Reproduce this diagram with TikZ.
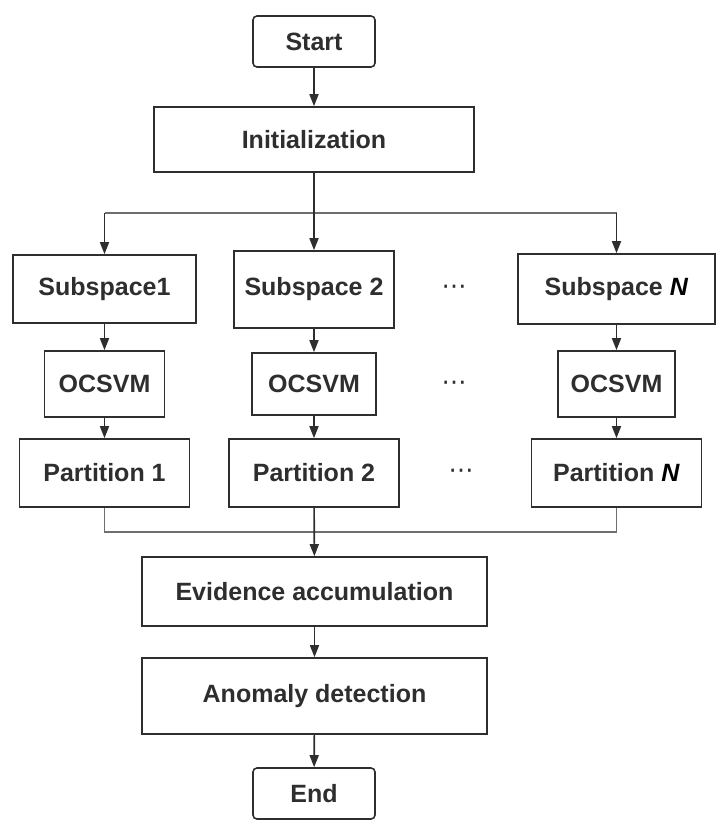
\documentclass[tikz,border=0pt]{standalone}
\usepackage{fontspec}
\setmainfont{Liberation Sans}
\newfontfamily\dvfont{DejaVu Sans}
\usetikzlibrary{arrows.meta}
\definecolor{ink}{HTML}{2E2E2E}
\definecolor{lineg}{HTML}{6E6E6E}
\begin{document}
\begin{tikzpicture}[x=1pt,y=-1pt,
  box/.style={draw=ink,line width=1.6pt,fill=white,text=ink,inner sep=0pt,
     font=\fontsize{25}{29}\selectfont\bfseries},
  rbox/.style={box,rounded corners=4pt},
  dotsl/.style={text=ink,inner sep=0pt,font=\fontsize{25}{29}\selectfont\dvfont},
  arr/.style={draw=ink,line width=1.6pt,-{Triangle[length=12pt,width=9pt]}},
  gline/.style={draw=lineg,line width=1.4pt}]
\useasboundingbox (0,0) rectangle (722,827);
\newcommand{\NN}{\textcolor{black}{\textit{N}}}
\node[rbox,minimum width=122pt,minimum height=51pt] (start) at (314,41.5) {Start};
\node[box,minimum width=320pt,minimum height=65pt] (init) at (314,139.5) {Initialization};
\node[box,minimum width=183pt,minimum height=68pt] (s1) at (104.5,289) {Subspace1};
\node[box,minimum width=160pt,minimum height=77pt] (s2) at (314,289.5) {Subspace 2};
\node[box,minimum width=197pt,minimum height=70pt] (sn) at (616.5,289) {Subspace \NN};
\node[box,minimum width=120pt,minimum height=66pt] (o1) at (104.5,384) {OCSVM};
\node[box,minimum width=124pt,minimum height=62pt] (o2) at (314,384) {OCSVM};
\node[box,minimum width=117pt,minimum height=66pt] (on) at (616.5,384) {OCSVM};
\node[box,minimum width=170pt,minimum height=68pt] (p1) at (104.5,473) {Partition 1};
\node[box,minimum width=170pt,minimum height=68pt] (p2) at (314,473) {Partition 2};
\node[box,minimum width=170pt,minimum height=68pt] (pn) at (616.5,473) {Partition \NN};
\node[box,minimum width=345pt,minimum height=69pt] (ev) at (314.5,591.5) {Evidence accumulation};
\node[box,minimum width=345pt,minimum height=76pt] (an) at (314.5,696) {Anomaly detection};
\node[rbox,minimum width=122pt,minimum height=51pt] (end) at (314,793.5) {End};
\node[dotsl] (d1) at (454,290) {⋯};
\node[dotsl] (d2) at (454,386) {⋯};
\node[dotsl] (d3) at (461,474) {⋯};
\coordinate (bl) at (104.5,213);
\coordinate (br) at (616.5,213);
\coordinate (ml) at (104.5,532);
\coordinate (mr) at (616.5,532);
\draw[gline] (bl) -- (br);
\draw[gline] (p1.south) -- (ml) -- (mr) -- (pn.south);
\draw[arr] (start) -- (init);
\draw[arr] (init) -- (s2);
\draw[arr] (bl) -- (s1);
\draw[arr] (br) -- (sn);
\draw[arr] (s1) -- (o1);
\draw[arr] (s2) -- (o2);
\draw[arr] (sn) -- (on);
\draw[arr] (o1) -- (p1);
\draw[arr] (o2) -- (p2);
\draw[arr] (on) -- (pn);
\draw[arr] (p2) -- (ev);
\draw[arr] (ev) -- (an);
\draw[arr] (an) -- (end);
\end{tikzpicture}
\end{document}
